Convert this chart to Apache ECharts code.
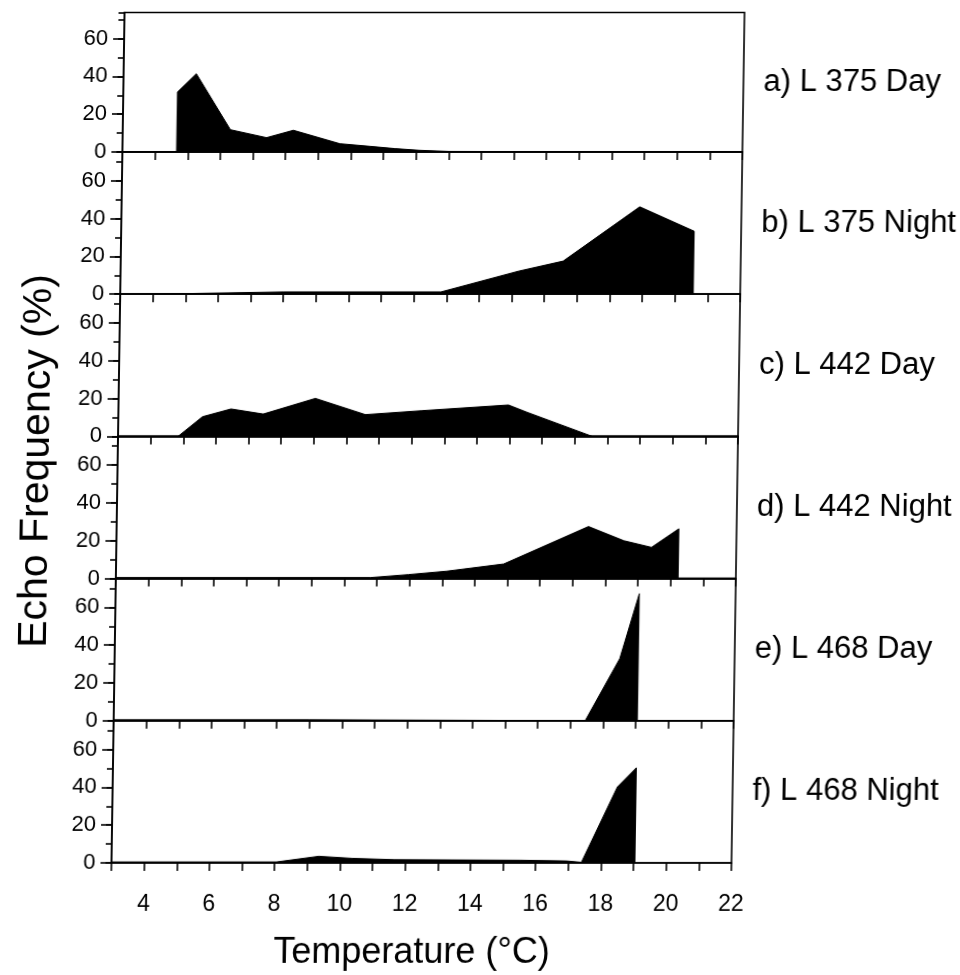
<!DOCTYPE html>
<html>
<head>
<meta charset="utf-8">
<script src="https://cdn.jsdelivr.net/npm/echarts@6/dist/echarts.min.js"></script>
<style>
  html, body { margin: 0; padding: 0; background: #fff; overflow: hidden; }
  #chart { width: 960px; height: 975px; transform: skewX(-0.88deg); transform-origin: 480px 438px; }
</style>
</head>
<body>
<div id="chart"></div>
<script>
// ---- Data ----
const panelLabels = ['a) L 375 Day', 'b) L 375 Night', 'c) L 442 Day', 'd) L 442 Night', 'e) L 468 Day', 'f) L 468 Night'];

const aDayX   = [3, 4.66, 4.66, 5.23, 6.30, 7.41, 8.23, 9.66, 10.58, 11.35, 12.1, 13, 22];
const aDayY   = [0, 0, 31.7, 41.4, 11.8, 7.6, 11.5, 4.4, 3.0, 1.8, 0.9, 0.3, 0];

const bNightX = [3, 5, 8, 12.83, 15.2, 16.56, 18.88, 20.56, 20.56];
const bNightY = [0, 0.3, 1.2, 1.2, 12.2, 17.5, 46.2, 33.3, 0];

const cDayX   = [4.84, 5.58, 6.45, 7.44, 9.03, 10.57, 12.31, 14.95, 15.53, 17.53];
const cDayY   = [0, 10.4, 14.5, 11.8, 20.1, 11.5, 13.6, 16.6, 12.7, 0];

const dNightX = [3, 10.8, 11.97, 13.14, 14.88, 17.46, 18.55, 19.4, 20.23, 20.23];
const dNightY = [0.5, 0.5, 2.1, 3.9, 7.7, 27.5, 20, 16.5, 26.3, 0];

const eDayX   = [3, 9, 17.45, 18.48, 19.05, 19.05];
const eDayY   = [0.5, 0.5, 0, 32.8, 67.2, 0];

const fNightX = [3, 8.06, 9.35, 10.38, 11.67, 15.53, 16.95, 17.4, 18.47, 19.04, 19.04];
const fNightY = [0.5, 0.5, 3.5, 2.4, 1.7, 1.4, 1.0, 0.3, 40.2, 50.3, 0];

const xTickLabels = [4, 6, 8, 10, 12, 14, 16, 18, 20, 22];
const yTickLabels = [0, 20, 40, 60];

const xTitle = 'Temperature (°C)';
const yTitle = 'Echo Frequency (%)';

// ---- Layout ----
const FONT = '"Liberation Sans", Arial, Helvetica, sans-serif';
const seriesX = [aDayX, bNightX, cDayX, dNightX, eDayX, fNightX];
const seriesY = [aDayY, bNightY, cDayY, dNightY, eDayY, fNightY];
const gridLeft = 118, gridWidth = 620;
const baselines = [152, 294.2, 436.4, 578.6, 720.8, 863];
const firstTop = 12.5;
const pxPerUnit = 1.89;
const skew = Math.tan(0.88 * Math.PI / 180);
const skewY0 = 438;

const grids = [], xAxes = [], yAxes = [], series = [], graphics = [];
for (let i = 0; i < 6; i++) {
  const top = i === 0 ? firstTop : baselines[i - 1];
  const h = baselines[i] - top;
  const yMax = Math.round(h / pxPerUnit * 10) / 10;
  grids.push({
    left: gridLeft, width: gridWidth, top: top, height: h,
    show: true, borderColor: '#000', borderWidth: 1.6, backgroundColor: 'transparent'
  });
  const last = i === 5;
  xAxes.push({
    type: 'value', gridIndex: i, min: 3, max: 22, interval: 1,
    axisLine: { show: true, onZero: false, lineStyle: { color: '#000', width: 1.6 } },
    axisTick: { show: true, inside: false, length: 8, lineStyle: { color: '#000', width: 1.6 } },
    axisLabel: {
      show: last, margin: 30, color: '#000', fontSize: 23, fontFamily: FONT,
      formatter: v => xTickLabels.indexOf(v) >= 0 ? String(v) : ''
    },
    splitLine: { show: false }
  });
  // major ticks + labels
  yAxes.push({
    type: 'value', gridIndex: i, position: 'left', min: 0, max: yMax, interval: 20,
    axisLine: { show: true, onZero: false, lineStyle: { color: '#000', width: 1.6 } },
    axisTick: { show: true, inside: false, length: 11, lineStyle: { color: '#000', width: 1.6 } },
    axisLabel: {
      margin: 16, color: '#000', fontSize: 22, fontFamily: FONT,
      showMaxLabel: false,
      formatter: v => yTickLabels.indexOf(v) >= 0 ? String(v) : ''
    },
    splitLine: { show: false }
  });
  // minor ticks
  yAxes.push({
    type: 'value', gridIndex: i, position: 'left', offset: 0, min: 0, max: yMax, interval: 10,
    axisLine: { show: false },
    axisTick: { show: true, inside: false, length: 6, lineStyle: { color: '#000', width: 1.6 } },
    axisLabel: { show: false },
    splitLine: { show: false }
  });
  series.push({
    type: 'line', xAxisIndex: i, yAxisIndex: 2 * i,
    data: seriesX[i].map((x, k) => [x, seriesY[i][k]]),
    symbol: 'none', smooth: false,
    lineStyle: { color: '#000', width: 1 },
    areaStyle: { color: '#000', opacity: 1 },
    clip: true
  });
  graphics.push({
    type: 'text', x: 758, y: top + h / 2,
    style: { text: panelLabels[i], fill: '#000', font: '31px ' + FONT, textAlign: 'left', textVerticalAlign: 'middle' }
  });
}
graphics.push({
  type: 'text', x: 411.5 + (953 - skewY0) * skew, y: 953,
  style: { text: xTitle, fill: '#000', font: '36px ' + FONT, textAlign: 'center', textVerticalAlign: 'middle' }
});
graphics.push({
  type: 'text', x: 37 + (461 - skewY0) * skew, y: 461, rotation: Math.PI / 2,
  style: { text: yTitle, fill: '#000', font: '41px ' + FONT, textAlign: 'center', textVerticalAlign: 'middle' }
});

const chart = echarts.init(document.getElementById('chart'), null, { renderer: 'canvas' });
chart.setOption({
  animation: false,
  backgroundColor: '#fff',
  grid: grids,
  xAxis: xAxes,
  yAxis: yAxes,
  series: series,
  graphic: graphics
});
</script>
</body>
</html>
